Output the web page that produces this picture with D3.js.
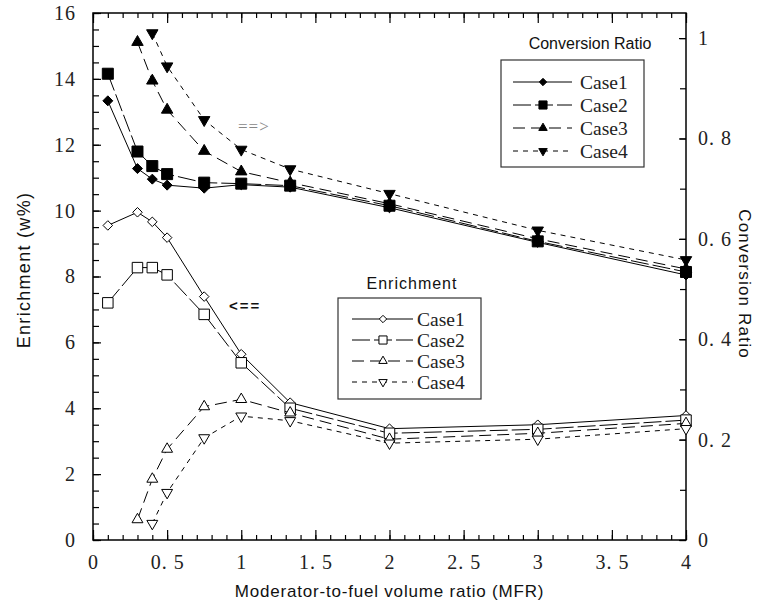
<!DOCTYPE html>
<html>
<head>
<meta charset="utf-8">
<script src="https://cdnjs.cloudflare.com/ajax/libs/d3/7.8.5/d3.min.js"></script>
<style>
  body { margin: 0; background: #fff; }
  svg { display: block; }
</style>
</head>
<body>
<svg id="chart1" width="760" height="605"></svg>
<script>
// MFR values shared by every series
const mfr = [0.1, 0.3, 0.4, 0.5, 0.75, 1, 1.33, 2, 3, 4]

// enrichment (w%), left axis
const enrCase1 = [9.55, 9.95, 9.66, 9.18, 7.39, 5.64, 4.17, 3.38, 3.50, 3.78]
const enrCase2 = [7.2, 8.27, 8.27, 8.05, 6.85, 5.38, 4.0, 3.24, 3.36, 3.64]
const enrCase3 = [null, 0.62, 1.85, 2.76, 4.05, 4.27, 3.86, 3.06, 3.24, 3.54]
const enrCase4 = [null, null, 0.5, 1.44, 3.1, 3.76, 3.62, 2.94, 3.06, 3.38]

// conversion ratio, right axis
const crCase1 = [0.875, 0.740, 0.719, 0.707, 0.701, 0.708, 0.703, 0.662, 0.593, 0.528]
const crCase2 = [0.929, 0.774, 0.745, 0.729, 0.712, 0.710, 0.706, 0.666, 0.595, 0.534]
const crCase3 = [null, 0.992, 0.915, 0.857, 0.775, 0.734, 0.712, 0.670, 0.600, 0.540]
const crCase4 = [null, null, 1.010, 0.944, 0.837, 0.778, 0.739, 0.690, 0.617, 0.558]

const caseNames = ['Case1', 'Case2', 'Case3', 'Case4']

const xTicks = [0, 0.5, 1, 1.5, 2, 2.5, 3, 3.5, 4]
const leftTicks = [0, 2, 4, 6, 8, 10, 12, 14, 16]
const rightTicks = [0, 0.2, 0.4, 0.6, 0.8, 1]

const dashes = ['none', '18,4', '12,6', '5,5']
const symbols = [d3.symbolDiamond2, d3.symbolSquare2, d3.symbolTriangle2, d3.symbolTriangle2]
const rotations = [0, 0, 0, 180]
const symbolSizes = [58, 140, 85, 85]

const serif = '"Liberation Serif", "DejaVu Serif", serif'
const sans = '"Liberation Sans", Arial, sans-serif'

const margin = {left: 93, top: 13, right: 74, bottom: 65}
const svg = d3.select('#chart1')
const wid = +svg.attr('width') - margin.left - margin.right,
      het = +svg.attr('height') - margin.top - margin.bottom

const xScale = d3.scaleLinear().domain([0, 4]).range([0, wid])
const yLeft = d3.scaleLinear().domain([0, 16]).range([het, 0])
const yRight = d3.scaleLinear().domain([0, 1.05]).range([het, 0])

const g = svg.append('g').attr('transform', `translate(${margin.left},${margin.top})`)

const fmt = d => String(d).replace('.', '. ')

/**
 * axis with inward minor + major ticks
 */
const printAxis =
(axisFn, scale, minor, major, minorLen, majorLen, translate, labels, labelPad) => {
    g.append('g')
        .attr('transform', translate)
        .call(axisFn(scale).tickValues(minor).tickSize(-minorLen).tickFormat(''))
        .call(a => a.select('.domain').remove())
        .selectAll('line').attr('stroke', '#000').attr('stroke-width', 1.2)
    const ax = g.append('g')
        .attr('transform', translate)
        .call(axisFn(scale).tickValues(major).tickSize(-majorLen).tickPadding(labelPad)
            .tickFormat(labels ? fmt : ''))
    ax.select('.domain').remove()
    ax.selectAll('line').attr('stroke', '#000').attr('stroke-width', 1.2)
    ax.selectAll('text')
        .style('font', `20px ${serif}`)
        .style('letter-spacing', '1px')
        .attr('fill', '#222')
}

const xMinor = d3.range(0, 4.0001, 0.1).map(v => +v.toFixed(1))
const leftMinor = d3.range(0, 16.001, 0.5)
const rightMinor = d3.range(0, 1.0001, 0.1).map(v => +v.toFixed(1))

printAxis(d3.axisBottom, xScale, xMinor, xTicks, 5, 10, `translate(0,${het})`, true, 15)
printAxis(d3.axisTop, xScale, xMinor, xTicks, 5, 10, 'translate(0,0)', false, 0)
printAxis(d3.axisLeft, yLeft, leftMinor, leftTicks, 6, 8, 'translate(0,0)', true, 17)
printAxis(d3.axisRight, yRight, rightMinor, rightTicks, 6, 7, `translate(${wid},0)`, true, 12)

g.append('rect')
    .attr('width', wid).attr('height', het)
    .attr('fill', 'none').attr('stroke', '#000').attr('stroke-width', 1.5)

/**
 * one series: line + markers
 */
const printSeries =
(values, yScale, i, filled) => {
    const data = mfr.map((x, j) => ({x: x, y: values[j]})).filter(d => d.y != null)
    g.append('path')
        .datum(data)
        .attr('d', d3.line().x(d => xScale(d.x)).y(d => yScale(d.y)))
        .attr('fill', 'none')
        .attr('stroke', '#000')
        .attr('stroke-width', 1)
        .attr('stroke-dasharray', dashes[i])
    g.append('g')
        .selectAll('path')
        .data(data)
        .enter()
        .append('path')
            .attr('transform', d => `translate(${xScale(d.x)},${yScale(d.y)})rotate(${rotations[i]})`)
            .attr('d', d3.symbol().type(symbols[i]).size(symbolSizes[i] * (filled ? 1.1 : 1)))
            .attr('fill', filled ? '#000' : '#fff')
            .attr('stroke', '#000')
            .attr('stroke-width', 1)
}

const enr = [enrCase1, enrCase2, enrCase3, enrCase4]
const cr = [crCase1, crCase2, crCase3, crCase4]
enr.forEach((v, i) => printSeries(v, yLeft, i, false))
cr.forEach((v, i) => printSeries(v, yRight, i, true))

/**
 * legend box
 */
const printLegend =
(title, titleX, titleY, spacing, box, lineX, markX, textX, rowY, rowGap, filled) => {
    svg.append('text')
        .attr('x', titleX).attr('y', titleY)
        .attr('text-anchor', 'middle')
        .style('font', `16px ${sans}`)
        .style('letter-spacing', spacing)
        .attr('fill', '#111')
        .text(title)
    svg.append('rect')
        .attr('x', box[0]).attr('y', box[1]).attr('width', box[2]).attr('height', box[3])
        .attr('fill', '#fff').attr('stroke', '#333').attr('stroke-width', 1.2)
    caseNames.forEach((name, i) => {
        const y = rowY + i * rowGap
        svg.append('line')
            .attr('x1', lineX[0]).attr('x2', lineX[1]).attr('y1', y).attr('y2', y)
            .attr('stroke', '#000').attr('stroke-width', 1)
            .attr('stroke-dasharray', dashes[i])
        svg.append('path')
            .attr('transform', `translate(${markX},${y})rotate(${rotations[i]})`)
            .attr('d', d3.symbol().type(symbols[i]).size(symbolSizes[i] * 0.6))
            .attr('fill', filled ? '#000' : '#fff')
            .attr('stroke', '#000').attr('stroke-width', 1)
        svg.append('text')
            .attr('x', textX).attr('y', y + 6.5)
            .style('font', `19.5px ${serif}`)
            .attr('fill', '#222')
            .text(name)
    })
}

printLegend('Conversion Ratio', 590, 49, '0px', [501, 60, 143, 107], [513, 572], 543, 580, 82, 23, true)
printLegend('Enrichment', 412, 289, '1px', [338, 298, 143, 101], [352, 413], 383, 417, 319, 21, false)

// direction hints
svg.append('text')
    .attr('x', 238).attr('y', 132)
    .style('font', `17px ${serif}`)
    .style('letter-spacing', '1px')
    .attr('fill', '#888')
    .text('==>')
svg.append('text')
    .attr('x', 229).attr('y', 311)
    .style('font', `bold 15px ${sans}`)
    .style('letter-spacing', '2px')
    .attr('fill', '#111')
    .text('<==')

// axis titles
svg.append('text')
    .attr('x', margin.left + wid / 2).attr('y', 597)
    .attr('text-anchor', 'middle')
    .style('font', `17px ${sans}`)
    .style('letter-spacing', '0.8px')
    .attr('fill', '#111')
    .text('Moderator-to-fuel volume ratio (MFR)')
svg.append('text')
    .attr('transform', `translate(30,270) rotate(-90)`)
    .attr('text-anchor', 'middle')
    .style('font', `18px ${sans}`)
    .style('letter-spacing', '1.3px')
    .attr('fill', '#111')
    .text('Enrichment (w%)')
svg.append('text')
    .attr('transform', `translate(739,284) rotate(90)`)
    .attr('text-anchor', 'middle')
    .style('font', `17px ${sans}`)
    .style('letter-spacing', '1.2px')
    .attr('fill', '#111')
    .text('Conversion Ratio')
</script>
</body>
</html>
